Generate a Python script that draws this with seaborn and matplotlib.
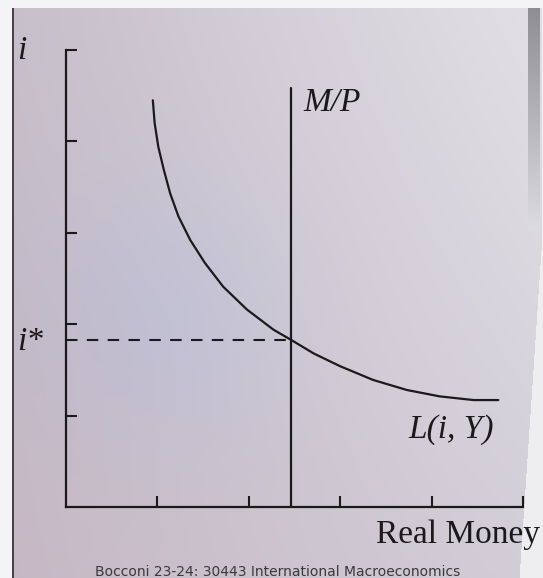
import numpy as np
import matplotlib
matplotlib.use("Agg")
import matplotlib.pyplot as plt
import seaborn as sns
import pandas as pd

# money demand curve L(i, Y) (x = real money, y = i)
curve_x = [0.95, 0.97, 1.01, 1.07, 1.14, 1.23, 1.36, 1.52, 1.72, 1.98,
           2.27, 2.46, 2.71, 3.00, 3.36, 3.73, 4.09, 4.46, 4.73]
curve_y = [4.45, 4.20, 3.94, 3.69, 3.43, 3.18, 2.92, 2.67, 2.41, 2.16,
           1.94, 1.83, 1.68, 1.54, 1.39, 1.28, 1.21, 1.17, 1.17]
money_supply = 2.46     # M/P
supply_top = 4.58
i_star = 1.83
tick_vals = [1, 2, 3, 4, 5]

W, H = 543, 578


def px(x, y):
    """ pixel position (from top-left) to figure fraction """
    return x / W, 1 - y / H


# slide-like background
yy, xx = np.mgrid[0:H, 0:W] / np.array([H, W])[:, None, None]
tl = np.array([198, 190, 202]); tr = np.array([226, 224, 230])
bl = np.array([198, 184, 195]); br = np.array([210, 206, 216])
bg = (tl * ((1 - xx) * (1 - yy))[..., None] + tr * (xx * (1 - yy))[..., None]
      + bl * ((1 - xx) * yy)[..., None] + br * (xx * yy)[..., None])
bump = np.exp(-(((xx - 0.3) / 0.25) ** 2 + ((yy - 0.55) / 0.25) ** 2))
bg += bump[..., None] * np.array([-10, -3, 5])
rows = np.arange(H)
edge = np.where(rows < 250, 541, 541 - (rows - 250) * 22 / 328)
cols = np.arange(W)
bg[cols[None, :] > edge[:, None]] = [238, 237, 240]
band = (cols[None, :] >= 528) & (cols[None, :] <= 539) & (rows[:, None] < 230) & (rows[:, None] > 7)
shade = np.clip(140 + rows[:, None] * 0.35 + 0 * cols[None, :], 140, 225)
bg[band] = np.stack([shade, shade, shade + 4], axis=-1)[band]
bg[:8, :] = [244, 243, 246]
bg[:, :12] = [244, 243, 246]
bg[8:, 12:14] = [70, 66, 72]
bg = np.clip(bg, 0, 255).astype(np.uint8)

sns.set_theme(style="ticks")
fig = plt.figure(figsize=(W / 100, H / 100), dpi=100)
bg_ax = fig.add_axes([0, 0, 1, 1])
bg_ax.imshow(bg, aspect="auto")
bg_ax.axis("off")

ax = fig.add_axes([66 / W, 1 - 507 / H, 457 / W, 457 / H])
ax.patch.set_alpha(0)

ink = "#1a1a1a"
df = pd.DataFrame({"money": curve_x, "i": curve_y})
sns.lineplot(data=df, x="money", y="i", sort=False, estimator=None,
             color=ink, lw=1.6, ax=ax)
sns.lineplot(x=[money_supply, money_supply], y=[0, supply_top], sort=False,
             estimator=None, color=ink, lw=1.6, ax=ax)
sns.lineplot(x=[0, money_supply], y=[i_star, i_star], estimator=None,
             color=ink, lw=1.5, ax=ax)
ax.lines[-1].set_dashes((5.5, 4.5))

ax.set_xlim(0, 5)
ax.set_ylim(0, 5)
ax.set_xticks(tick_vals)
ax.set_yticks(tick_vals)
ax.set_xticklabels([])
ax.set_yticklabels([])
ax.set_xlabel("")
ax.set_ylabel("")
ax.tick_params(direction="in", length=8, width=1.5, color=ink)
sns.despine(ax=ax)
for s in ["left", "bottom"]:
    ax.spines[s].set_color(ink)
    ax.spines[s].set_linewidth(1.6)

serif = "Liberation Serif"
fig.text(*px(22, 59), "i", fontsize=24, fontstyle="italic", family=serif,
         ha="center", va="baseline", color=ink)
fig.text(*px(17, 350), "i*", fontsize=24, fontstyle="italic", family=serif,
         ha="left", va="baseline", color=ink)
fig.text(*px(303, 111), "M/P", fontsize=24, fontstyle="italic", family=serif,
         ha="left", va="baseline", color=ink)
fig.text(*px(408, 438), "L(i, Y)", fontsize=24, fontstyle="italic", family=serif,
         ha="left", va="baseline", color=ink)
fig.text(*px(540, 543), "Real Money", fontsize=24, family=serif,
         ha="right", va="baseline", color=ink)
fig.text(*px(278, 576), "Bocconi 23-24: 30443 International Macroeconomics",
         fontsize=10, family="DejaVu Sans", ha="center", va="baseline", color="#3a3a3a")

fig.savefig("out.png", dpi=100)
